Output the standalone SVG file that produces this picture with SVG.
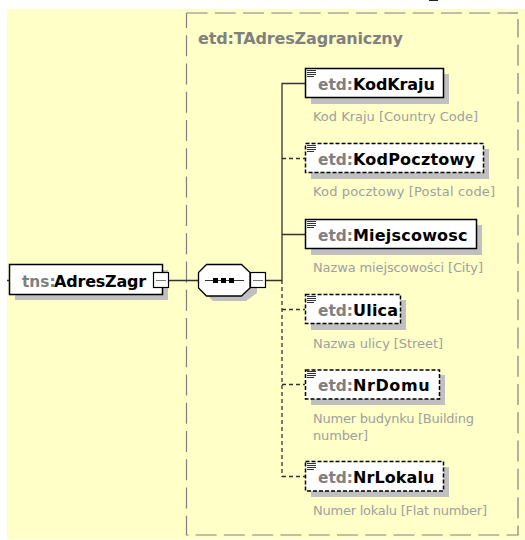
<svg xmlns="http://www.w3.org/2000/svg" width="525" height="540" viewBox="0 0 525 540">
<style>
.n{font:bold 16px "DejaVu Sans",Tahoma,sans-serif;fill:#000}
.p{font-size:15.4px;fill:#808080}
.d{font:13px "DejaVu Sans",sans-serif;fill:#a0a0a0}
.sh{fill:#c0c0c0}
.box{fill:#fff;stroke:#000;stroke-width:1.5}
.opt{stroke-dasharray:4 2}
.c{fill:none;stroke:#333;stroke-width:1.3}
.cd{stroke-dasharray:4 3}
.ic{fill:none;stroke:#333;stroke-width:1}
.btn{fill:#fff;stroke:#000;stroke-width:1.2}
.min{fill:none;stroke:#777;stroke-width:1}
.bd{fill:none;stroke:#808080;stroke-width:1.200;stroke-dasharray:21 7.27}
</style>
<rect x="7" y="9" width="518" height="530.500" fill="#ffffc8"/>
<rect x="429" y="0" width="9" height="1" fill="#222"/>
<path class="bd" d="M186.500 13H518"/>
<path class="bd" stroke-dashoffset="6" d="M186.500 13V535H518V19"/>
<text x="198" y="44" textLength="205" style="font:bold 16px 'DejaVu Sans',sans-serif" fill="#808080">etd:TAdresZagraniczny</text>
<g id="connectors">
<path class="c" d="M7 280.500H9M168 280.500H199M265 280.500H282M282 280.500V83.500H305M282 234.500H305"/>
<path class="c cd" d="M282 158.500H305M282 309.500H305M282 384.500H305M282 476.500H305M282 280V477"/>
</g>
<g id="tns-AdresZagr">
<rect class="sh" x="15" y="270" width="153" height="30"/>
<rect class="box" x="9.500" y="264.500" width="153" height="30"/>
<text y="287"><tspan class="n p" x="22">tns:</tspan><tspan class="n" x="54" letter-spacing="-.2">AdresZagr</tspan></text>
<rect class="btn" x="153.500" y="272.500" width="15" height="15"/>
<path class="min" d="M156 280.500H166"/>
</g>
<g id="sequence">
<path class="sh" d="M213 270H246L257 281V293L246 301H213L205 293V281Z"/>
<path d="M206.500 264.500H241.500L250 272.500V288L241.500 296H206.500L198.500 288V272.500Z" fill="#fff" stroke="#000" stroke-width="1.300"/>
<path class="ic" d="M205 280.500H244"/>
<path d="M213 278h5v5h-5zM221 278h5v5h-5zM229 278h5v5h-5z"/>
<rect class="btn" x="250.500" y="272.500" width="15" height="15"/>
<path class="min" d="M253 280.500H263"/>
</g>
<g id="KodKraju">
<rect class="sh" x="311" y="74" width="138" height="30"/>
<rect class="box" x="305.500" y="68.500" width="138" height="29"/>
<path class="ic" d="M307 70.500H316M307 72.500H316M307 74.500H316M307 76.500H314"/>
<text y="90"><tspan class="n p" x="318">etd:</tspan><tspan class="n" x="353" letter-spacing="-.1">KodKraju</tspan></text>
<text class="d" x="313" y="121" textLength="165">Kod Kraju [Country Code]</text>
</g>
<g id="KodPocztowy">
<rect class="sh" x="311" y="149" width="178" height="30"/>
<rect class="box opt" x="305.500" y="143.500" width="178" height="29"/>
<path class="ic" d="M307 145.500H316M307 147.500H316M307 149.500H316M307 151.500H314"/>
<text y="165"><tspan class="n p" x="318">etd:</tspan><tspan class="n" x="353" letter-spacing=".2">KodPocztowy</tspan></text>
<text class="d" x="313" y="196" textLength="182">Kod pocztowy [Postal code]</text>
</g>
<g id="Miejscowosc">
<rect class="sh" x="311" y="225" width="171" height="30"/>
<rect class="box" x="305.500" y="219.500" width="171" height="29"/>
<path class="ic" d="M307 221.500H316M307 223.500H316M307 225.500H316M307 227.500H314"/>
<text y="241"><tspan class="n p" x="318">etd:</tspan><tspan class="n" x="353" letter-spacing=".2">Miejscowosc</tspan></text>
<text class="d" x="313" y="272" textLength="170">Nazwa miejscowości [City]</text>
</g>
<g id="Ulica">
<rect class="sh" x="311" y="300" width="95" height="30"/>
<rect class="box opt" x="305.500" y="294.500" width="95" height="29"/>
<path class="ic" d="M307 296.500H316M307 298.500H316M307 300.500H316M307 302.500H314"/>
<text y="316"><tspan class="n p" x="318">etd:</tspan><tspan class="n" x="353" letter-spacing=".2">Ulica</tspan></text>
<text class="d" x="313" y="348" textLength="130">Nazwa ulicy [Street]</text>
</g>
<g id="NrDomu">
<rect class="sh" x="311" y="375" width="134" height="30"/>
<rect class="box opt" x="305.500" y="370" width="134" height="29"/>
<path class="ic" d="M307 371.500H316M307 373.500H316M307 375.500H316M307 377.500H314"/>
<text y="391"><tspan class="n p" x="318">etd:</tspan><tspan class="n" x="353" letter-spacing=".6">NrDomu</tspan></text>
<text class="d" x="313" y="423" textLength="161">Numer budynku [Building</text>
<text class="d" x="313" y="440" textLength="55">number]</text>
</g>
<g id="NrLokalu">
<rect class="sh" x="311" y="467" width="138" height="30"/>
<rect class="box opt" x="305.500" y="461.500" width="138" height="29.500"/>
<path class="ic" d="M307 463.500H316M307 465.500H316M307 467.500H316M307 469.500H314"/>
<text y="483"><tspan class="n p" x="318">etd:</tspan><tspan class="n" x="353" letter-spacing=".1">NrLokalu</tspan></text>
<text class="d" x="313" y="515" textLength="174">Numer lokalu [Flat number]</text>
</g>
</svg>
